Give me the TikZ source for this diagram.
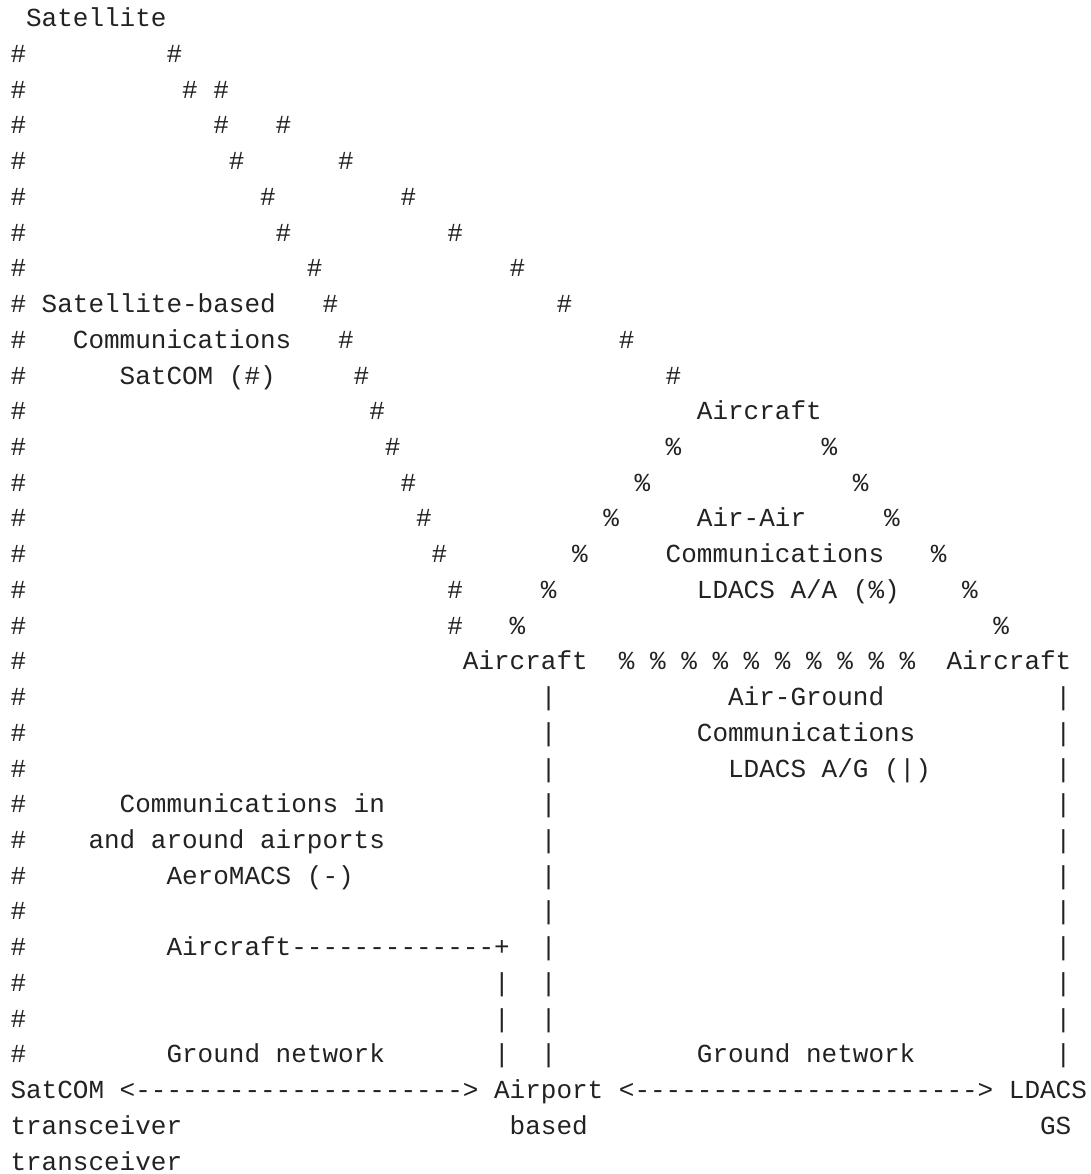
\documentclass[tikz,border=0pt]{standalone}
\usepackage{fontspec}
\setmonofont{Liberation Mono}
\usetikzlibrary{positioning}
\definecolor{ink}{HTML}{222222}
\tikzstyle{ascii} = [anchor=base west, inner sep=0pt, outer sep=0pt, text=ink, font=\ttfamily\fontsize{26}{26}\selectfont]

\begin{document}
\begin{tikzpicture}[x=15.6pt, y=35.73pt]
\useasboundingbox (-10.5pt,-9.03pt) rectangle (1079.5pt,-1183.03pt);
% Satellite and SatCOM link
\node [ascii] (Sat) at (1,-1) {Satellite};
\foreach \n in {2,...,30}
  \node [ascii] (edge\n) at (0,-\n) {\#};
\foreach \n/\c in {2/10,3/11,4/13,5/14,6/16,7/17,8/19,9/20,10/21,11/22,12/23,13/24,14/25,15/26,16/27,17/28,18/28}
  \node [ascii] (satA\n) at (\c,-\n) {\#};
\foreach \n/\c in {3/13,4/17,5/21,6/25,7/28,8/32,9/35,10/39,11/42}
  \node [ascii] (satB\n) at (\c,-\n) {\#};
\node [ascii] (SatLbl1) at (2,-9) {Satellite-based};
\node [ascii] (SatLbl2) at (4,-10) {Communications};
\node [ascii] (SatLbl3) at (7,-11) {SatCOM (\#)};
% Air-Air
\node [ascii] (AcTop) at (44,-12) {Aircraft};
\foreach \n/\c in {13/42,14/40,15/38,16/36,17/34,18/32}
  \node [ascii] (aaA\n) at (\c,-\n) {\%};
\foreach \n/\c in {13/52,14/54,15/56,16/59,17/61,18/63}
  \node [ascii] (aaB\n) at (\c,-\n) {\%};
\node [ascii] (AaLbl1) at (44,-15) {Air-Air};
\node [ascii] (AaLbl2) at (42,-16) {Communications};
\node [ascii] (AaLbl3) at (44,-17) {LDACS A/A (\%)};
\node [ascii] (AcLeft) at (29,-19) {Aircraft};
\foreach \c in {39,41,...,57}
  \node [ascii] (aaC\c) at (\c,-19) {\%};
\node [ascii] (AcRight) at (60,-19) {Aircraft};
% Air-Ground
\foreach \n in {20,...,30} {
  \node [ascii] (agA\n) at (34,-\n) {|};
  \node [ascii] (agB\n) at (67,-\n) {|};
}
\node [ascii] (AgLbl1) at (46,-20) {Air-Ground};
\node [ascii] (AgLbl2) at (44,-21) {Communications};
\node [ascii] (AgLbl3) at (46,-22) {LDACS A/G (|)};
% AeroMACS
\node [ascii] (AmLbl1) at (7,-23) {Communications in};
\node [ascii] (AmLbl2) at (5,-24) {and around airports};
\node [ascii] (AmLbl3) at (10,-25) {AeroMACS (-)};
\node [ascii] (AcGround) at (10,-27) {Aircraft-------------+};
\foreach \n in {28,29,30}
  \node [ascii] (am\n) at (31,-\n) {|};
% Ground network
\node [ascii] (GnLeft) at (10,-30) {Ground network};
\node [ascii] (GnRight) at (44,-30) {Ground network};
\node [ascii] (SatTx) at (0,-31) {SatCOM};
\node [ascii] (LinkL) at (7,-31) {<--------------------->};
\node [ascii] (Apt) at (31,-31) {Airport};
\node [ascii] (LinkR) at (39,-31) {<---------------------->};
\node [ascii] (Gs) at (64,-31) {LDACS};
\node [ascii] (SatTx2) at (0,-32) {transceiver};
\node [ascii] (Apt2) at (32,-32) {based};
\node [ascii] (Gs2) at (66,-32) {GS};
\node [ascii] (SatTx3) at (0,-33) {transceiver};
\end{tikzpicture}
\end{document}
